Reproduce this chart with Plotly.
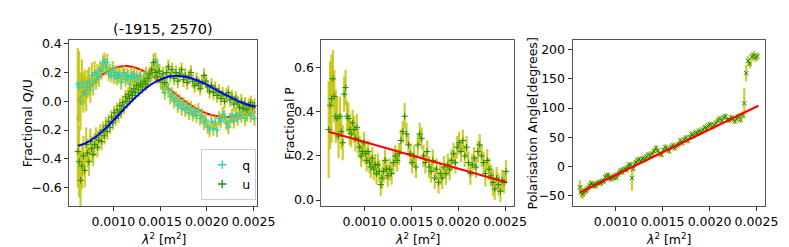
import plotly.graph_objects as go

# ---------------- data ----------------
lam2 = [0.000620, 0.000635, 0.000650, 0.000665, 0.000680, 0.000695, 0.000710, 0.000725, 0.000740, 0.000755,
        0.000770, 0.000785, 0.000800, 0.000815, 0.000830, 0.000845, 0.000860, 0.000875, 0.000890, 0.000905,
        0.000920, 0.000935, 0.000950, 0.000965, 0.000980, 0.000995, 0.001010, 0.001025, 0.001040, 0.001055,
        0.001070, 0.001085, 0.001100, 0.001115, 0.001130, 0.001145, 0.001160, 0.001175, 0.001190, 0.001205,
        0.001220, 0.001235, 0.001250, 0.001270, 0.001290, 0.001310, 0.001330, 0.001350, 0.001370, 0.001390,
        0.001410, 0.001430, 0.001450, 0.001470, 0.001490, 0.001510, 0.001530, 0.001550, 0.001570, 0.001590,
        0.001610, 0.001630, 0.001650, 0.001670, 0.001690, 0.001710, 0.001730, 0.001750, 0.001770, 0.001790,
        0.001810, 0.001830, 0.001850, 0.001870, 0.001890, 0.001910, 0.001930, 0.001950, 0.001970, 0.001990,
        0.002010, 0.002030, 0.002050, 0.002070, 0.002090, 0.002110, 0.002130, 0.002150, 0.002170, 0.002190,
        0.002210, 0.002230, 0.002250, 0.002270, 0.002290, 0.002310, 0.002330, 0.002350, 0.002370, 0.002390,
        0.002410, 0.002430, 0.002450, 0.002470, 0.002490, 0.002510]

q = [0.12, 0.10, 0.00, 0.13, 0.06, 0.10, 0.05, 0.12, 0.14, 0.08,
     0.18, 0.12, 0.20, 0.15, 0.19, 0.17, 0.22, 0.21, 0.26, 0.28,
     0.24, 0.27, 0.19, 0.21, 0.18, 0.23, 0.17, 0.20, 0.16, 0.19,
     0.18, 0.13, 0.18, 0.20, 0.15, 0.18, 0.17, 0.12, 0.18, 0.16,
     0.19, 0.14, 0.17, 0.15, 0.18, 0.13, 0.16, 0.19, 0.14, 0.17,
     0.18, 0.22, 0.28, 0.25, 0.21, 0.13, 0.10, 0.06, 0.12, 0.08,
     0.03, 0.05, 0.00, 0.02, -0.03, 0.00, -0.05, -0.02, -0.06, -0.04,
     -0.08, -0.05, -0.09, -0.07, -0.10, -0.06, -0.12, -0.10, -0.15, -0.13,
     -0.18, -0.20, -0.14, -0.19, -0.15, -0.20, -0.12, -0.14, -0.09, -0.11,
     -0.15, -0.18, -0.13, -0.10, -0.14, -0.09, -0.12, -0.08, -0.10, -0.07,
     -0.12, -0.09, -0.06, -0.10, -0.08, -0.12]

u = [-0.35, -0.42, -0.55, -0.45, -0.38, -0.48, -0.30, -0.36, -0.42, -0.28,
     -0.33, -0.37, -0.30, -0.25, -0.32, -0.27, -0.22, -0.28, -0.20, -0.24,
     -0.17, -0.21, -0.14, -0.18, -0.11, -0.15, -0.08, -0.12, -0.06, -0.10,
     -0.03, -0.07, -0.01, -0.04, 0.03, 0.00, 0.05, 0.02, 0.07, 0.04,
     0.09, 0.06, 0.11, 0.08, 0.12, 0.10, 0.14, 0.12, 0.16, 0.19,
     0.22, 0.27, 0.20, 0.17, 0.21, 0.15, 0.19, 0.13, 0.20, 0.24,
     0.18, 0.22, 0.16, 0.20, 0.14, 0.19, 0.22, 0.15, 0.18, 0.13,
     0.17, 0.20, 0.14, 0.11, 0.15, 0.12, 0.09, 0.13, 0.18, 0.14,
     0.10, 0.07, 0.11, 0.06, 0.09, 0.04, 0.07, 0.02, 0.05, 0.00,
     0.04, 0.06, 0.01, 0.03, -0.02, 0.02, -0.01, -0.04, 0.00, -0.05,
     -0.02, -0.06, -0.03, -0.01, -0.04, -0.03]

qu_err = [0.25, 0.25, 0.20, 0.16, 0.14, 0.12, 0.12, 0.10, 0.10, 0.09,
          0.09, 0.08, 0.08, 0.07, 0.07, 0.07, 0.06, 0.06, 0.06, 0.06,
          0.06, 0.06, 0.05, 0.05, 0.05, 0.05, 0.05, 0.05, 0.05, 0.05,
          0.05, 0.05, 0.05, 0.05, 0.05, 0.05, 0.05, 0.05, 0.05, 0.05,
          0.05, 0.05, 0.05, 0.05, 0.05, 0.05, 0.05, 0.05, 0.05, 0.05,
          0.05, 0.06, 0.06, 0.05, 0.05, 0.05, 0.05, 0.05, 0.05, 0.05,
          0.05, 0.05, 0.05, 0.05, 0.05, 0.05, 0.05, 0.05, 0.05, 0.05,
          0.05, 0.05, 0.05, 0.05, 0.05, 0.05, 0.05, 0.05, 0.05, 0.05,
          0.05, 0.05, 0.05, 0.05, 0.05, 0.05, 0.05, 0.05, 0.05, 0.05,
          0.05, 0.05, 0.05, 0.05, 0.05, 0.05, 0.05, 0.05, 0.05, 0.05,
          0.05, 0.05, 0.05, 0.05, 0.05, 0.05]

frac_p = [0.32, 0.43, 0.46, 0.55, 0.47, 0.38, 0.37, 0.29, 0.38, 0.31,
          0.26, 0.48, 0.51, 0.38, 0.37, 0.32, 0.30, 0.35, 0.32, 0.28,
          0.33, 0.27, 0.24, 0.20, 0.22, 0.26, 0.21, 0.18, 0.22, 0.17,
          0.15, 0.19, 0.14, 0.16, 0.12, 0.16, 0.13, 0.07, 0.10, 0.13,
          0.18, 0.14, 0.11, 0.14, 0.12, 0.17, 0.20, 0.18, 0.21, 0.27,
          0.31, 0.38, 0.30, 0.25, 0.21, 0.17, 0.20, 0.15, 0.25, 0.30,
          0.28, 0.20, 0.17, 0.22, 0.15, 0.13, 0.18, 0.10, 0.14, 0.08,
          0.12, 0.10, 0.15, 0.12, 0.16, 0.14, 0.18, 0.21, 0.17, 0.24,
          0.26, 0.22, 0.27, 0.20, 0.24, 0.17, 0.12, 0.16, 0.19, 0.15,
          0.22, 0.25, 0.20, 0.17, 0.12, 0.18, 0.14, 0.11, 0.08, 0.05,
          0.10, 0.07, 0.04, 0.09, 0.08, 0.13]

p_err = [0.22, 0.20, 0.20, 0.13, 0.12, 0.12, 0.10, 0.10, 0.09, 0.08,
         0.08, 0.08, 0.08, 0.07, 0.07, 0.07, 0.06, 0.06, 0.06, 0.06,
         0.06, 0.06, 0.05, 0.05, 0.05, 0.05, 0.05, 0.05, 0.05, 0.05,
         0.05, 0.05, 0.05, 0.05, 0.05, 0.05, 0.05, 0.05, 0.05, 0.05,
         0.05, 0.05, 0.05, 0.05, 0.05, 0.05, 0.05, 0.05, 0.05, 0.05,
         0.05, 0.06, 0.05, 0.05, 0.05, 0.05, 0.05, 0.05, 0.05, 0.05,
         0.05, 0.05, 0.05, 0.05, 0.05, 0.05, 0.05, 0.05, 0.05, 0.05,
         0.05, 0.05, 0.05, 0.05, 0.05, 0.05, 0.05, 0.05, 0.05, 0.05,
         0.05, 0.05, 0.05, 0.05, 0.05, 0.05, 0.05, 0.05, 0.05, 0.05,
         0.05, 0.05, 0.05, 0.05, 0.06, 0.05, 0.05, 0.05, 0.06, 0.05,
         0.05, 0.05, 0.05, 0.05, 0.05, 0.05]

angle = [-36, -44, -48, -45, -42, -40, -37, -33, -29, -33,
         -31, -34, -30, -29, -27, -29, -26, -25, -19, -17,
         -15, -20, -22, -18, -20, -16, -19, -14, -11, -7,
         -10, -6, -4, -6, -1, 3, 2, -20, -4, 4,
         7, 10, 12, 9, 14, 12, 17, 20, 18, 22,
         26, 31, 27, 22, 20, 28, 33, 30, 26, 33,
         36, 31, 35, 38, 44, 40, 46, 49, 44, 50,
         55, 52, 58, 56, 61, 59, 63, 67, 64, 70,
         72, 68, 71, 75, 79, 82, 78, 84, 86, 80,
         79, 84, 81, 77, 82, 86, 80, 88, 108, 160,
         181, 176, 188, 191, 186, 189]

angle_err = [12, 10, 8, 7, 6, 6, 5, 5, 5, 5,
             5, 5, 5, 5, 5, 5, 5, 5, 5, 5,
             5, 5, 5, 5, 5, 5, 5, 5, 5, 5,
             5, 5, 5, 5, 5, 5, 5, 22, 6, 5,
             5, 5, 5, 5, 5, 5, 5, 5, 5, 5,
             6, 6, 5, 5, 5, 5, 5, 5, 5, 5,
             5, 5, 5, 5, 5, 5, 5, 5, 5, 5,
             5, 5, 5, 5, 5, 5, 5, 5, 5, 5,
             5, 5, 5, 5, 5, 5, 5, 5, 5, 5,
             5, 5, 5, 5, 5, 5, 6, 6, 26, 14,
             8, 8, 7, 7, 7, 7]

# fitted model curves (sampled)
fit_x = [0.00062, 0.00070, 0.00080, 0.00090, 0.00100, 0.00110, 0.00120, 0.00130, 0.00140, 0.00150,
         0.00160, 0.00170, 0.00180, 0.00190, 0.00200, 0.00210, 0.00220, 0.00230, 0.00240, 0.00250, 0.00252]
q_fit = [0.000, 0.065, 0.136, 0.192, 0.228, 0.244, 0.240, 0.218, 0.182, 0.136,
         0.085, 0.033, -0.015, -0.055, -0.085, -0.103, -0.110, -0.106, -0.093, -0.075, -0.071]
u_fit = [-0.310, -0.293, -0.254, -0.199, -0.134, -0.064, 0.004, 0.065, 0.115, 0.151,
         0.172, 0.176, 0.166, 0.145, 0.115, 0.080, 0.045, 0.012, -0.015, -0.035, -0.038]
line_x = [0.00062, 0.00252]
p_fit = [0.31, 0.08]
angle_fit = [-45, 104]

title_text = "(-1915, 2570)"

# ---------------- styling ----------------
W, H = 789, 247
FONT = "DejaVu Sans"
ERR_COL = "rgba(191,191,0,0.8)"
CYAN = "#22d0c8"
GREEN = "#178c17"
FS = 12.5

def px_x(p):
    return p / W

def px_y(p):
    return 1 - p / H

doms = [(62.7, 255.0), (320.7, 517.7), (577.7, 775.0)]
ytop, ybot = 28.5, 198.5
xranges = [[0.000529, 0.002539], [0.000542, 0.002594], [0.000542, 0.002594]]

fig = go.Figure()

def err_trace(x, y, e, col, sym, name, xa, ya):
    return go.Scatter(
        x=x, y=y, mode="markers", name=name, showlegend=False,
        xaxis=xa, yaxis=ya,
        error_y=dict(type="data", array=e, visible=True, color=ERR_COL, thickness=2.2, width=0),
        marker=dict(symbol=sym, size=4.5, color=col, line=dict(color=col, width=1)),
    )

# panel 1 (q fit drawn beneath the data, u fit on top)
fig.add_trace(go.Scatter(x=fit_x, y=q_fit, mode="lines", line=dict(color="red", width=2, shape="spline"),
                         showlegend=False, xaxis="x", yaxis="y"))
fig.add_trace(err_trace(lam2, q, qu_err, CYAN, "cross-thin", "q", "x", "y"))
fig.add_trace(err_trace(lam2, u, qu_err, GREEN, "cross-thin", "u", "x", "y"))
fig.add_trace(go.Scatter(x=fit_x, y=u_fit, mode="lines", line=dict(color="blue", width=2, shape="spline"),
                         showlegend=False, xaxis="x", yaxis="y"))
# legend entries
fig.add_trace(go.Scatter(x=[None], y=[None], mode="markers", name="q", showlegend=True,
                         marker=dict(symbol="cross-thin", size=6, color=CYAN, line=dict(color=CYAN, width=1.3)),
                         xaxis="x", yaxis="y"))
fig.add_trace(go.Scatter(x=[None], y=[None], mode="markers", name="u", showlegend=True,
                         marker=dict(symbol="cross-thin", size=6, color=GREEN, line=dict(color=GREEN, width=1.3)),
                         xaxis="x", yaxis="y"))

# panel 2
fig.add_trace(err_trace(lam2, frac_p, p_err, GREEN, "cross-thin", "P", "x2", "y2"))
fig.add_trace(go.Scatter(x=line_x, y=p_fit, mode="lines", line=dict(color="red", width=2),
                         showlegend=False, xaxis="x2", yaxis="y2"))

# panel 3
fig.add_trace(err_trace(lam2, angle, angle_err, GREEN, "x-thin", "angle", "x3", "y3"))
fig.add_trace(go.Scatter(x=line_x, y=angle_fit, mode="lines", line=dict(color="red", width=2),
                         showlegend=False, xaxis="x3", yaxis="y3"))

axis_common = dict(showline=True, mirror=True, linecolor="#555", linewidth=1, showgrid=False, zeroline=False,
                   ticks="outside", ticklen=4, tickcolor="#333", tickwidth=1,
                   tickfont=dict(family=FONT, size=FS, color="black"))

xticks = [0.0010, 0.0015, 0.0020, 0.0025]
layout = dict(
    width=W, height=H, margin=dict(l=0, r=0, t=0, b=0),
    paper_bgcolor="white", plot_bgcolor="white",
    font=dict(family=FONT, size=FS, color="black"),
    legend=dict(x=px_x(254.0), xanchor="right", y=px_y(192.0), yanchor="bottom",
                bgcolor="white", bordercolor="#cccccc", borderwidth=1,
                font=dict(family=FONT, size=FS), itemwidth=30, tracegroupgap=2),
)
yranges = [[-0.732, 0.427], [-0.029, 0.726], [-69, 217]]
yticks = [[-0.6, -0.4, -0.2, 0.0, 0.2, 0.4], [0.0, 0.2, 0.4, 0.6], [-50, 0, 50, 100, 150, 200]]
yfmt = [".1f", ".1f", "d"]
for i in range(3):
    sx = "" if i == 0 else str(i + 1)
    layout["xaxis" + sx] = dict(axis_common, domain=[px_x(doms[i][0]), px_x(doms[i][1])],
                                range=xranges[i], tickvals=xticks, tickformat=".4f",
                                anchor="y" + sx)
    layout["yaxis" + sx] = dict(axis_common, domain=[px_y(ybot), px_y(ytop)],
                                range=yranges[i], tickvals=yticks[i], tickformat=yfmt[i],
                                anchor="x" + sx)
fig.update_layout(**layout)

ylabels = ["Fractional Q/U", "Fractional P", "Polarisation Angle[degrees]"]
ylabel_x = [19.5, 288.0, 536.5]
annotations = []
for i in range(3):
    cx = (doms[i][0] + doms[i][1]) / 2
    annotations.append(dict(text="<i>λ</i><sup>2</sup> [m<sup>2</sup>]", x=px_x(cx), y=px_y(232),
                            xref="paper", yref="paper", showarrow=False,
                            font=dict(family=FONT, size=FS), xanchor="center", yanchor="middle"))
    annotations.append(dict(text=ylabels[i], x=px_x(ylabel_x[i]), y=px_y((ytop + ybot) / 2),
                            xref="paper", yref="paper", showarrow=False, textangle=-90,
                            font=dict(family=FONT, size=FS), xanchor="center", yanchor="middle"))
annotations.append(dict(text=title_text, x=px_x((doms[0][0] + doms[0][1]) / 2), y=px_y(17),
                        xref="paper", yref="paper", showarrow=False,
                        font=dict(family=FONT, size=14.5), xanchor="center", yanchor="middle"))
fig.update_layout(annotations=annotations)

fig.write_html("out.html")
